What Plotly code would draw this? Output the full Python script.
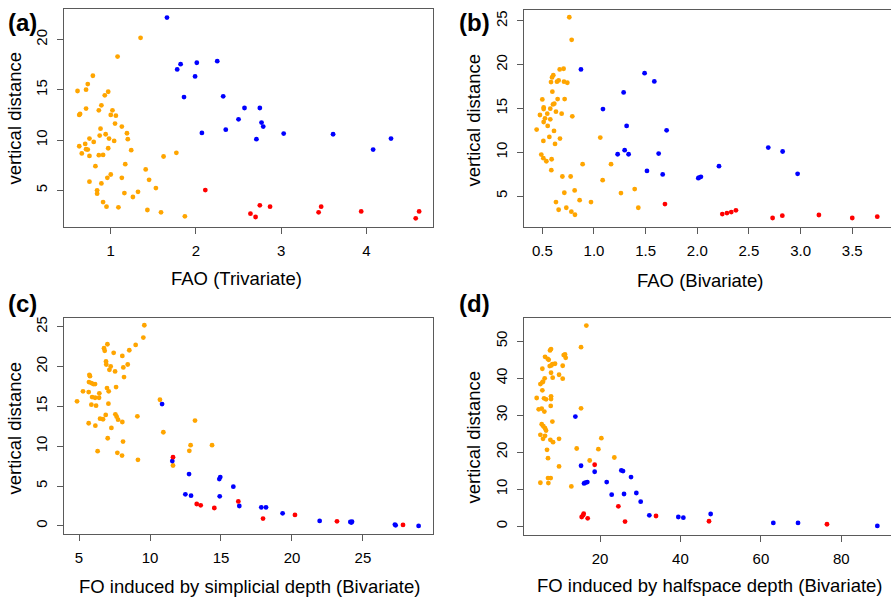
import plotly.graph_objects as go

# ---------------- data ----------------
A_orange_x = [1.35,1.08,0.79,0.73,0.61,0.71,0.97,0.93,0.89,0.71,0.86,1.02,0.64,0.63,1.00,1.06,1.05,1.13,0.88,1.19,
              0.87,0.94,0.75,0.98,1.20,1.04,0.80,0.70,0.63,0.97,0.71,0.73,1.24,0.66,0.86,0.91,0.75,1.62,1.77,0.82,
              1.17,1.41,1.45,1.00,0.96,1.13,0.75,0.89,1.53,0.84,0.84,1.16,1.32,1.26,0.91,0.95,1.09,1.43,1.59,1.87]
A_orange_y = [20.17,18.31,16.40,15.57,14.88,15.01,14.81,14.45,13.46,13.13,12.96,12.96,12.60,12.50,12.50,12.43,11.64,11.34,11.14,10.68,
              10.45,10.58,10.15,10.15,10.09,9.92,9.82,9.62,9.39,9.19,9.09,9.06,9.00,8.67,8.50,8.53,8.43,8.37,8.73,7.41,
              7.61,7.08,6.05,6.58,6.25,6.25,5.86,5.69,5.23,5.00,4.67,4.73,4.86,4.34,3.84,3.38,3.31,3.05,2.82,2.42]
A_blue_x = [1.66,1.78,1.82,2.01,1.99,2.25,1.86,2.32,2.57,2.75,2.50,2.77,2.79,2.35,2.07,2.71,3.03,3.61,4.29,4.08]
A_blue_y = [22.18,17.03,17.55,17.69,16.33,17.85,14.28,14.35,13.19,13.19,12.07,11.74,11.34,11.04,10.71,10.09,10.65,10.58,10.15,9.06]
A_red_x = [2.11,2.64,2.70,2.75,2.87,3.44,3.47,3.94,4.58,4.62]
A_red_y = [5.03,2.68,2.35,3.51,3.38,2.82,3.38,2.91,2.22,2.91]

B_orange_x = [0.761,0.784,0.668,0.706,0.606,0.594,0.584,0.658,0.642,0.710,0.742,0.597,0.500,0.648,0.716,0.616,0.603,0.513,0.513,0.577,
              0.632,0.687,0.790,0.477,0.548,0.526,0.577,0.513,0.552,0.445,0.613,0.568,0.671,0.510,0.623,1.061,0.490,0.510,0.539,0.590,
              0.587,0.890,1.165,0.694,0.774,1.084,0.713,0.813,1.261,1.394,0.632,0.861,0.971,1.429,0.658,0.732,0.781,0.816]
B_orange_y = [25.42,22.84,19.46,19.54,18.81,18.55,18.02,18.21,18.06,18.06,17.94,16.92,16.04,16.08,16.08,15.55,15.47,15.13,14.94,14.98,
              14.64,14.41,14.11,14.26,14.41,13.88,13.77,13.46,13.01,12.59,12.44,11.76,11.57,11.30,10.96,11.68,9.74,9.33,8.98,9.21,
              7.96,8.64,8.64,7.24,7.24,6.82,5.38,5.65,5.34,5.80,4.32,4.54,4.32,3.67,3.44,3.67,3.22,2.87]
B_blue_x = [0.874,1.490,1.584,1.287,1.087,1.316,1.703,1.297,1.229,1.335,1.626,1.513,1.665,2.010,2.035,2.016,2.210,2.687,2.826,2.971]
B_blue_y = [19.46,19.04,18.09,16.84,14.94,13.01,12.51,10.24,9.78,9.78,9.86,7.88,7.47,7.05,7.20,7.12,8.42,10.54,10.09,7.54]
B_red_x = [1.687,2.242,2.287,2.329,2.374,2.729,2.823,3.177,3.500,3.742]
B_red_y = [4.09,2.95,3.06,3.18,3.37,2.50,2.76,2.84,2.50,2.65]

C_orange_x = [9.60,9.53,8.99,8.54,7.00,6.76,6.81,7.44,8.05,8.43,6.90,6.92,7.23,8.12,7.14,7.54,8.17,5.73,5.77,5.70,
              5.87,6.01,6.13,5.28,5.68,6.43,5.92,6.13,6.41,4.86,5.87,6.20,6.97,7.61,7.09,7.07,6.88,7.56,7.65,7.75,
              8.05,6.48,6.69,5.68,6.15,7.28,9.11,7.02,8.10,6.31,7.70,8.03,9.15,10.70,10.94,13.17,12.86,12.77,14.37,11.62]
C_orange_y = [25.17,23.63,22.71,22.04,22.79,22.29,21.96,21.71,21.33,20.25,20.63,20.25,20.00,19.88,19.58,19.38,18.67,18.96,18.79,18.04,
              17.92,17.79,17.79,16.88,16.79,16.63,16.17,16.08,16.08,15.63,15.21,15.08,17.29,17.42,16.88,15.33,13.92,14.00,13.71,13.33,
              13.04,13.46,13.38,12.88,12.58,12.29,13.75,11.00,10.58,9.38,9.17,8.83,8.29,15.83,11.75,13.21,10.13,9.42,10.13,7.58]
C_blue_x = [10.85,11.57,12.75,12.49,12.89,14.88,14.95,15.87,14.91,16.29,17.84,18.17,19.34,21.95,24.11,24.23,24.18,27.25,27.30,28.92]
C_blue_y = [15.29,8.13,6.50,3.96,3.79,5.88,6.13,4.92,3.71,2.50,2.33,2.33,1.58,0.63,0.50,0.54,0.42,0.17,0.08,0.00]
C_red_x = [11.62,13.29,13.57,14.53,16.22,17.96,20.21,23.17,27.82]
C_red_y = [8.63,2.75,2.58,2.25,3.08,0.92,1.38,0.58,0.13]

D_orange_x = [16.60,15.28,7.82,7.57,6.33,6.99,7.24,10.97,11.46,11.30,5.66,7.49,8.15,8.81,7.90,10.72,6.24,7.82,8.23,9.81,
              10.72,5.17,5.66,5.83,5.66,4.25,6.08,6.58,7.82,7.82,7.74,4.75,5.50,6.16,15.28,8.15,5.50,5.91,6.33,6.58,
              5.17,6.33,5.83,7.65,8.32,9.81,20.33,6.82,14.20,19.59,7.07,23.56,17.43,9.81,5.17,7.07,7.74,7.16,12.87]
D_orange_y = [54.22,48.38,47.85,47.49,45.78,45.24,44.97,46.23,45.51,46.41,42.55,43.27,43.81,43.90,43.45,43.36,39.95,41.47,40.13,40.93,
              39.86,38.42,38.87,39.05,36.71,34.65,34.56,34.29,35.10,34.38,32.50,31.60,31.78,30.97,31.87,28.28,27.56,27.02,26.48,25.85,
              24.69,24.42,23.61,23.34,22.71,23.61,23.79,20.65,21.00,20.83,18.40,18.58,17.77,16.16,11.76,13.02,13.02,11.67,10.77]
D_blue_x = [13.87,15.28,18.67,16.02,16.35,16.85,21.66,25.30,25.72,27.71,22.90,25.97,29.03,30.11,32.26,39.47,40.72,47.51,63.09,69.23,88.95]
D_blue_y = [29.62,16.34,14.72,11.58,11.76,11.94,11.94,15.08,14.90,13.29,8.53,8.71,8.98,6.64,2.96,2.51,2.33,3.32,0.90,0.90,0.09]
D_red_x = [18.67,24.56,15.94,15.77,15.44,16.93,26.22,33.92,47.10,76.43]
D_red_y = [16.61,5.39,3.41,2.96,2.51,2.15,1.26,2.78,1.35,0.54]

x_titles = ["FAO (Trivariate)", "FAO (Bivariate)",
            "FO induced by simplicial depth (Bivariate)", "FO induced by halfspace depth (Bivariate)"]
y_title = "vertical distance"
panel_labels = ["(a)", "(b)", "(c)", "(d)"]

# ---------------- figure ----------------
ORANGE, BLUE, RED = "#FFA500", "#0000FF", "#FF0000"
FONT = "Liberation Sans, Arial, sans-serif"
FRAME = "#5a5a5a"

fig = go.Figure()
panels = [
    (A_orange_x, A_orange_y, A_blue_x, A_blue_y, A_red_x, A_red_y),
    (B_orange_x, B_orange_y, B_blue_x, B_blue_y, B_red_x, B_red_y),
    (C_orange_x, C_orange_y, C_blue_x, C_blue_y, C_red_x, C_red_y),
    (D_orange_x, D_orange_y, D_blue_x, D_blue_y, D_red_x, D_red_y),
]
for i, (ox, oy, bx, by, rx, ry) in enumerate(panels):
    sfx = "" if i == 0 else str(i + 1)
    for xs, ys, col in ((ox, oy, ORANGE), (bx, by, BLUE), (rx, ry, RED)):
        fig.add_trace(go.Scatter(x=xs, y=ys, mode="markers", xaxis="x" + sfx, yaxis="y" + sfx,
                                 marker=dict(color=col, size=4.8, line=dict(width=0)),
                                 showlegend=False, hoverinfo="x+y"))

x_domains = [[0.0722, 0.4856], [0.5878, 1.0], [0.0722, 0.4856], [0.5878, 1.0]]
y_domains = [[0.6232, 0.9878], [0.6232, 0.9866], [0.1070, 0.4699], [0.1065, 0.4699]]
x_ranges = [[0.455, 4.779], [0.32, 3.875], [3.965, 29.91], [1.03, 92.35]]
y_ranges = [[1.40, 23.01], [1.52, 26.25], [-1.04, 26.09], [-2.23, 56.27]]
x_ticks = [[1, 2, 3, 4], [0.5, 1.0, 1.5, 2.0, 2.5, 3.0, 3.5], [5, 10, 15, 20, 25], [20, 40, 60, 80]]
x_fmt = ["", ".1f", "", ""]
y_ticks = [[5, 10, 15, 20], [5, 10, 15, 20, 25], [0, 5, 10, 15, 20, 25], [0, 10, 20, 30, 40, 50]]

layout = dict(width=891, height=598, margin=dict(l=0, r=0, t=0, b=0),
              paper_bgcolor="white", plot_bgcolor="white",
              font=dict(family=FONT, color="black"))
for i in range(4):
    sfx = "" if i == 0 else str(i + 1)
    full_box = i in (0, 2)
    layout["xaxis" + sfx] = dict(domain=x_domains[i], range=x_ranges[i], anchor="y" + sfx,
                                 tickmode="array", tickvals=x_ticks[i], tickformat=x_fmt[i],
                                 ticks="outside", ticklen=6, tickcolor=FRAME, tickwidth=1,
                                 showline=True, linecolor=FRAME, linewidth=1.2, mirror=True,
                                 showgrid=False, zeroline=False,
                                 tickfont=dict(size=15, family=FONT, color="black"),
                                 ticklabelstandoff=4)
    layout["yaxis" + sfx] = dict(domain=y_domains[i], range=y_ranges[i], anchor="x" + sfx,
                                 tickmode="array", tickvals=y_ticks[i],
                                 ticks="outside", ticklen=6, tickcolor=FRAME, tickwidth=1,
                                 showline=True, linecolor=FRAME, linewidth=1.2, mirror=full_box,
                                 showgrid=False, zeroline=False, tickangle=-90,
                                 tickfont=dict(size=15, family=FONT, color="black"),
                                 ticklabelstandoff=4)

ann = []
xt_pos = [(236.7, 277), (700, 279), (249.5, 586), (710, 585)]
yt_pos = [(15, 117), (474, 119), (15, 428), (474, 437)]
pl_pos = [(22, 21), (474, 21), (22, 303), (474, 303)]
for i in range(4):
    x, y = xt_pos[i]
    ann.append(dict(text=x_titles[i], x=x / 891, y=1 - y / 598, xref="paper", yref="paper",
                    xanchor="center", yanchor="middle", showarrow=False,
                    font=dict(size=18.5, family=FONT, color="black")))
    x, y = yt_pos[i]
    ann.append(dict(text=y_title, x=x / 891, y=1 - y / 598, xref="paper", yref="paper",
                    xanchor="center", yanchor="middle", showarrow=False, textangle=-90,
                    font=dict(size=18.5, family=FONT, color="black")))
    x, y = pl_pos[i]
    ann.append(dict(text="<b>" + panel_labels[i] + "</b>", x=x / 891, y=1 - y / 598, xref="paper", yref="paper",
                    xanchor="center", yanchor="middle", showarrow=False,
                    font=dict(size=24, family=FONT, color="black")))
layout["annotations"] = ann
fig.update_layout(**layout)
fig.write_html("out.html", config={"displayModeBar": False},
               post_script="document.body.style.margin='0';document.body.style.overflow='hidden';")
